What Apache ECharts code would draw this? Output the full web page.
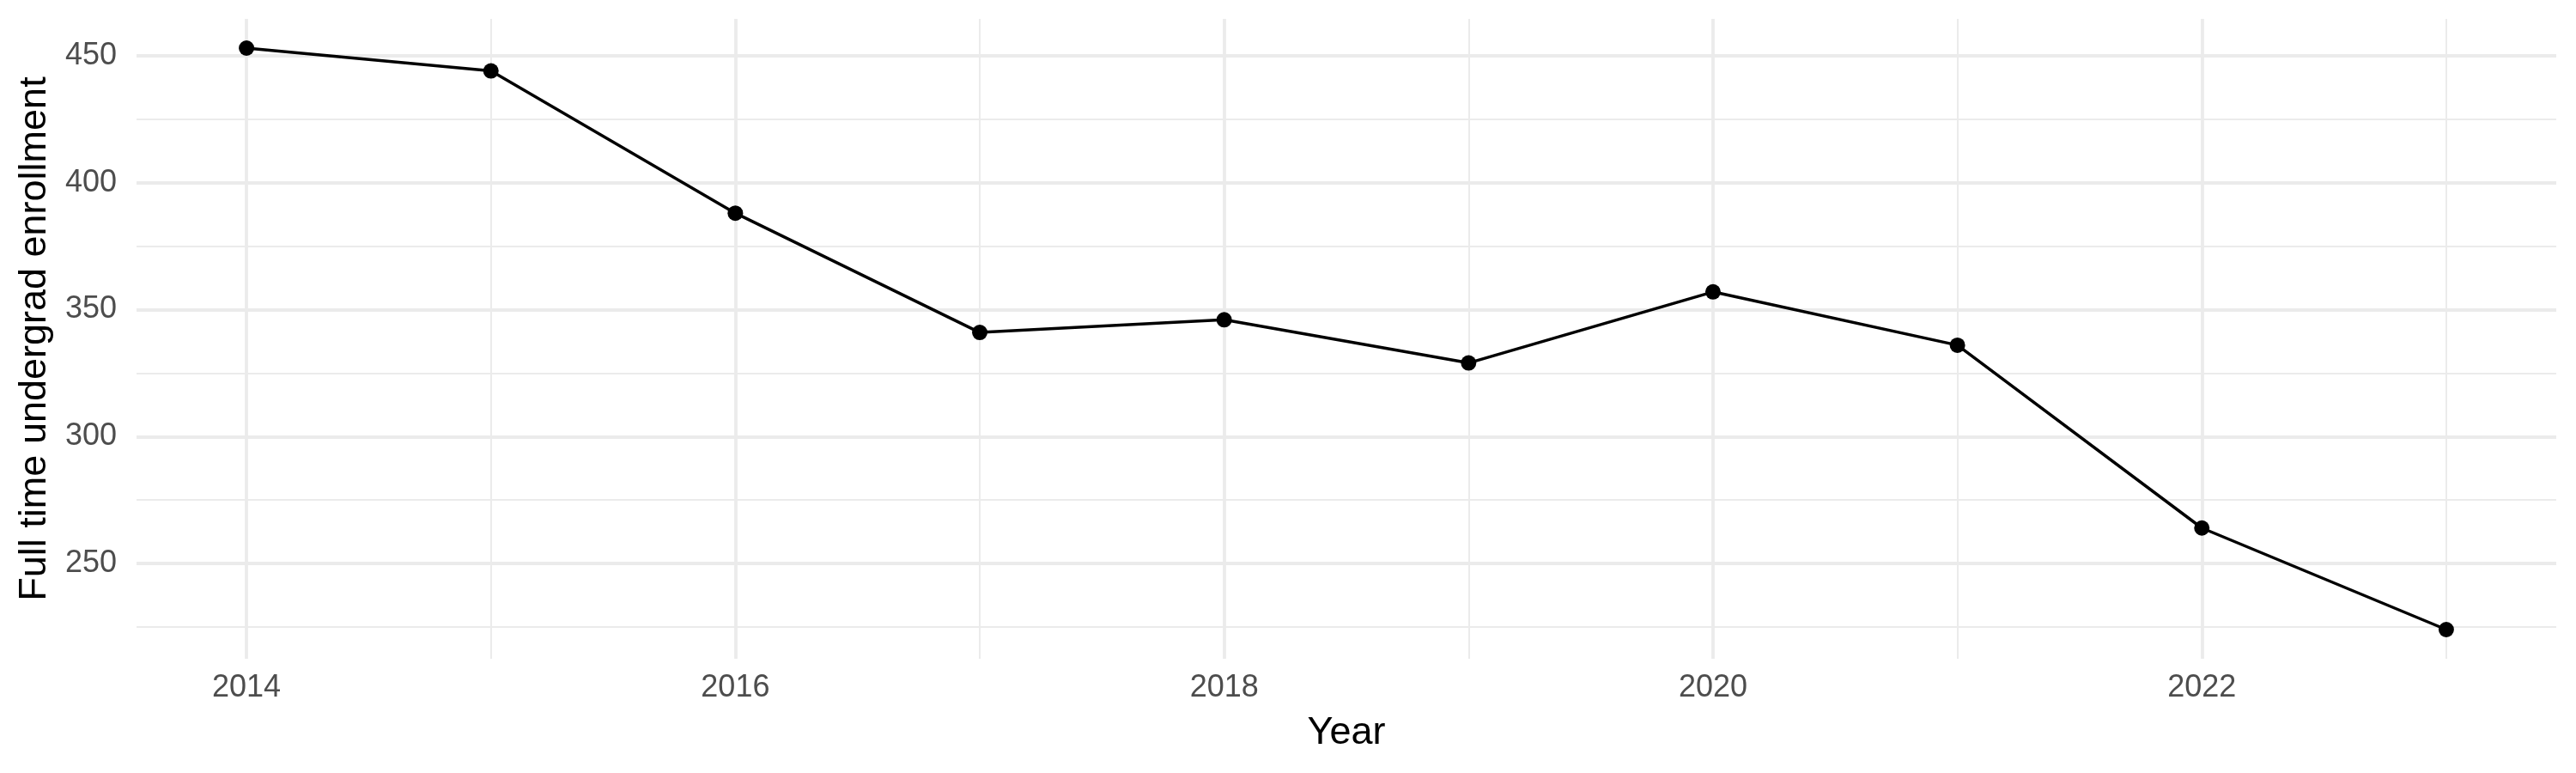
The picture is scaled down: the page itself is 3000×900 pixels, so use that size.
<!DOCTYPE html>
<html>
<head>
<meta charset="utf-8">
<script src="https://cdn.jsdelivr.net/npm/echarts@6/dist/echarts.min.js"></script>
<style>
html,body{margin:0;padding:0;background:#fff;}
#chart{width:3000px;height:900px;}
</style>
</head>
<body>
<div id="chart"></div>
<script>
const years = [2014, 2015, 2016, 2017, 2018, 2019, 2020, 2021, 2022, 2023];
const enrollment = [453, 444, 388, 341, 346, 329, 357, 336, 264, 224];
const xTickLabels = [2014, 2016, 2018, 2020, 2022];
const xMinorTicks = [2015, 2017, 2019, 2021, 2023];
const yTickLabels = [250, 300, 350, 400, 450];
const yMinorTicks = [225, 275, 325, 375, 425];

const FONT = '"Liberation Sans", Arial, Helvetica, sans-serif';
const chart = echarts.init(document.getElementById('chart'), null, {renderer: 'canvas'});

const gridLines = [].concat(
  yMinorTicks.map(v => ({yAxis: v, lineStyle: {color: '#EBEBEB', width: 2}})),
  xMinorTicks.map(v => ({xAxis: v, lineStyle: {color: '#EBEBEB', width: 2}})),
  yTickLabels.map(v => ({yAxis: v, lineStyle: {color: '#EBEBEB', width: 3.8}})),
  xTickLabels.map(v => ({xAxis: v, lineStyle: {color: '#EBEBEB', width: 3.8}}))
);

chart.setOption({
  animation: false,
  backgroundColor: '#ffffff',
  grid: {left: 159, right: 23, top: 22, bottom: 133, containLabel: false},
  xAxis: {
    type: 'value',
    min: 2013.55,
    max: 2023.45,
    name: 'Year',
    nameLocation: 'middle',
    nameGap: 64,
    nameTextStyle: {color: '#000', fontSize: 45, fontFamily: FONT},
    axisLine: {show: false},
    axisTick: {show: false},
    splitLine: {show: false},
    axisLabel: {
      customValues: xTickLabels,
      color: '#4D4D4D',
      fontSize: 36,
      fontFamily: FONT,
      margin: 16,
      formatter: v => String(v)
    }
  },
  yAxis: {
    type: 'value',
    min: 212.5,
    max: 464.5,
    name: 'Full time undergrad enrollment',
    nameLocation: 'middle',
    nameRotate: 90,
    nameGap: 96,
    nameTextStyle: {color: '#000', fontSize: 45, fontFamily: FONT},
    axisLine: {show: false},
    axisTick: {show: false},
    splitLine: {show: false},
    axisLabel: {
      customValues: yTickLabels,
      color: '#4D4D4D',
      fontSize: 36,
      fontFamily: FONT,
      margin: 23
    }
  },
  series: [
    {
      type: 'line',
      z: 1,
      data: [],
      silent: true,
      markLine: {
        z: 1,
        silent: true,
        symbol: ['none', 'none'],
        label: {show: false},
        lineStyle: {type: 'solid', color: '#EBEBEB'},
        emphasis: {disabled: true},
        data: gridLines
      }
    },
    {
      type: 'line',
      z: 10,
      data: years.map((y, i) => [y, enrollment[i]]),
      symbol: 'circle',
      symbolSize: 18,
      itemStyle: {color: '#000', borderWidth: 0},
      lineStyle: {color: '#000', width: 3.5},
      emphasis: {disabled: true}
    }
  ]
});
</script>
</body>
</html>
